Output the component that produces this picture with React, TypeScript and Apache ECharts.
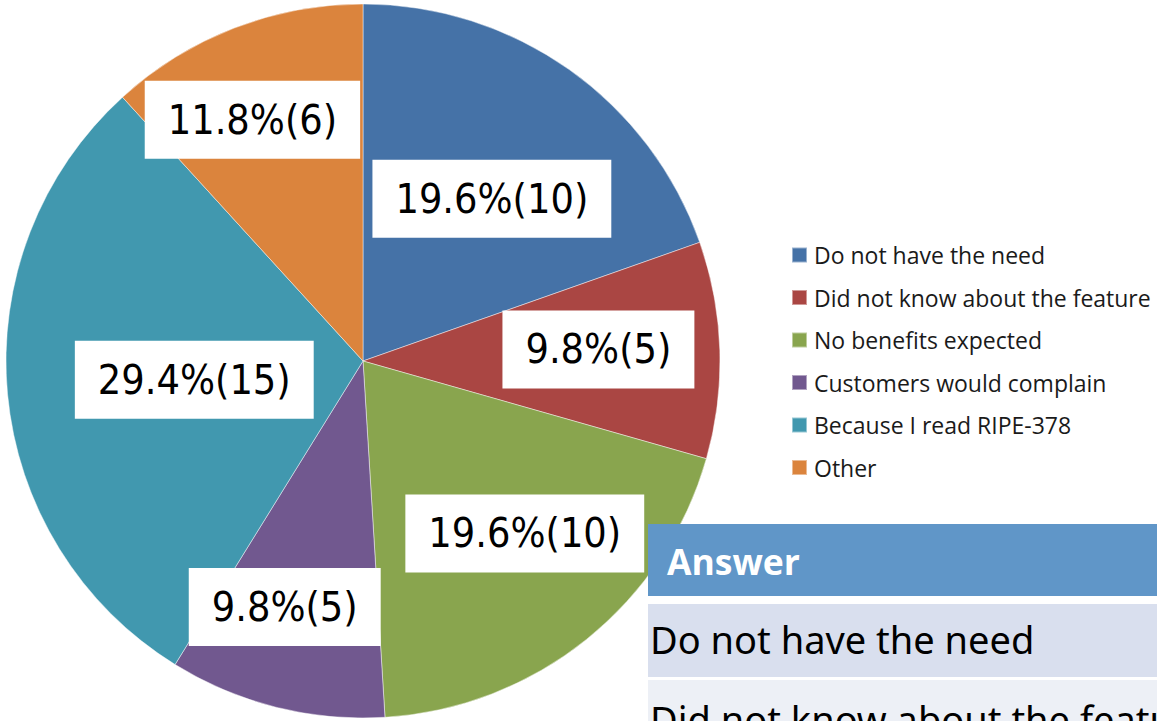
import React, { useEffect, useRef } from "react";
import * as echarts from "echarts";

const categories = [
  "Do not have the need",
  "Did not know about the feature",
  "No benefits expected",
  "Customers would complain",
  "Because I read RIPE-378",
  "Other",
];
const counts = [10, 5, 10, 5, 15, 6];
const colors = ["#4572a7", "#aa4643", "#89a54e", "#71588f", "#4198af", "#db843d"];
// label nudges relative to the default "inside" anchor (style only)
const labelOffsets = [
  [24, -14],
  [54, -6],
  [48, 31],
  [-34, 70],
  [12, 2],
  [-45, -72],
];
const tableHeader = "Answer";
const tableRows = ["Do not have the need", "Did not know about the feature"];

const LABEL_FONT = "'Liberation Sans Narrow', 'DejaVu Sans Condensed', 'Open Sans', sans-serif";

export default function App() {
  const ref = useRef<HTMLDivElement>(null);
  useEffect(() => {
    document.body.style.margin = "0";
    if (!ref.current) return;
    const chart = echarts.init(ref.current, undefined, { renderer: "svg" });
    chart.setOption({
      animation: false,
      backgroundColor: "#ffffff",
      color: colors,
      legend: {
        orient: "vertical",
        left: 791,
        top: 242,
        padding: 0,
        icon: "rect",
        itemWidth: 15,
        itemHeight: 15,
        itemGap: 16.5,
        data: categories,
        selectedMode: false,
        textStyle: {
          fontFamily: "'Open Sans', sans-serif",
          fontSize: 23,
          lineHeight: 26,
          color: "#1a1a1a",
          padding: [0, 0, 0, 2],
        },
      },
      series: [
        {
          type: "pie",
          center: [363, 361],
          radius: 357,
          startAngle: 90,
          clockwise: true,
          percentPrecision: 1,
          avoidLabelOverlap: false,
          labelLine: { show: false },
          itemStyle: { borderColor: "rgba(255,255,255,0.45)", borderWidth: 1 },
          emphasis: { disabled: true },
          label: {
            show: true,
            position: "inside",
            rotate: 0,
            formatter: "{d}%({c})",
            color: "#000000",
            fontFamily: LABEL_FONT,
            fontSize: 41,
            lineHeight: 42,
            backgroundColor: "#ffffff",
            padding: [18, 23, 18, 23],
          },
          data: categories.map((name, i) => ({
            name,
            value: counts[i],
            label: { offset: labelOffsets[i] },
          })),
        },
      ],
      graphic: [
        {
          type: "rect",
          z: 100,
          shape: { x: 648, y: 524, width: 520, height: 72 },
          style: { fill: "#6096c8" },
        },
        {
          type: "rect",
          z: 100,
          shape: { x: 648, y: 604, width: 520, height: 73 },
          style: { fill: "#d9dfee" },
        },
        {
          type: "rect",
          z: 100,
          shape: { x: 648, y: 680, width: 520, height: 60 },
          style: { fill: "#edf0f6" },
        },
        {
          type: "text",
          z: 101,
          x: 667,
          y: 561,
          style: {
            text: tableHeader,
            fill: "#ffffff",
            fontFamily: "'Open Sans', sans-serif",
            fontWeight: "bold",
            fontSize: 35.5,
            verticalAlign: "middle",
          },
        },
        {
          type: "text",
          z: 101,
          x: 650,
          y: 639,
          style: {
            text: tableRows[0],
            fill: "#000000",
            fontFamily: "'Noto Sans', sans-serif",
            fontSize: 38,
            verticalAlign: "middle",
          },
        },
        {
          type: "text",
          z: 101,
          x: 650,
          y: 719,
          style: {
            text: tableRows[1],
            fill: "#000000",
            fontFamily: "'Noto Sans', sans-serif",
            fontSize: 38,
            verticalAlign: "middle",
          },
        },
      ],
    });
    return () => chart.dispose();
  }, []);
  return <div ref={ref} style={{ width: 1157, height: 721 }} />;
}
